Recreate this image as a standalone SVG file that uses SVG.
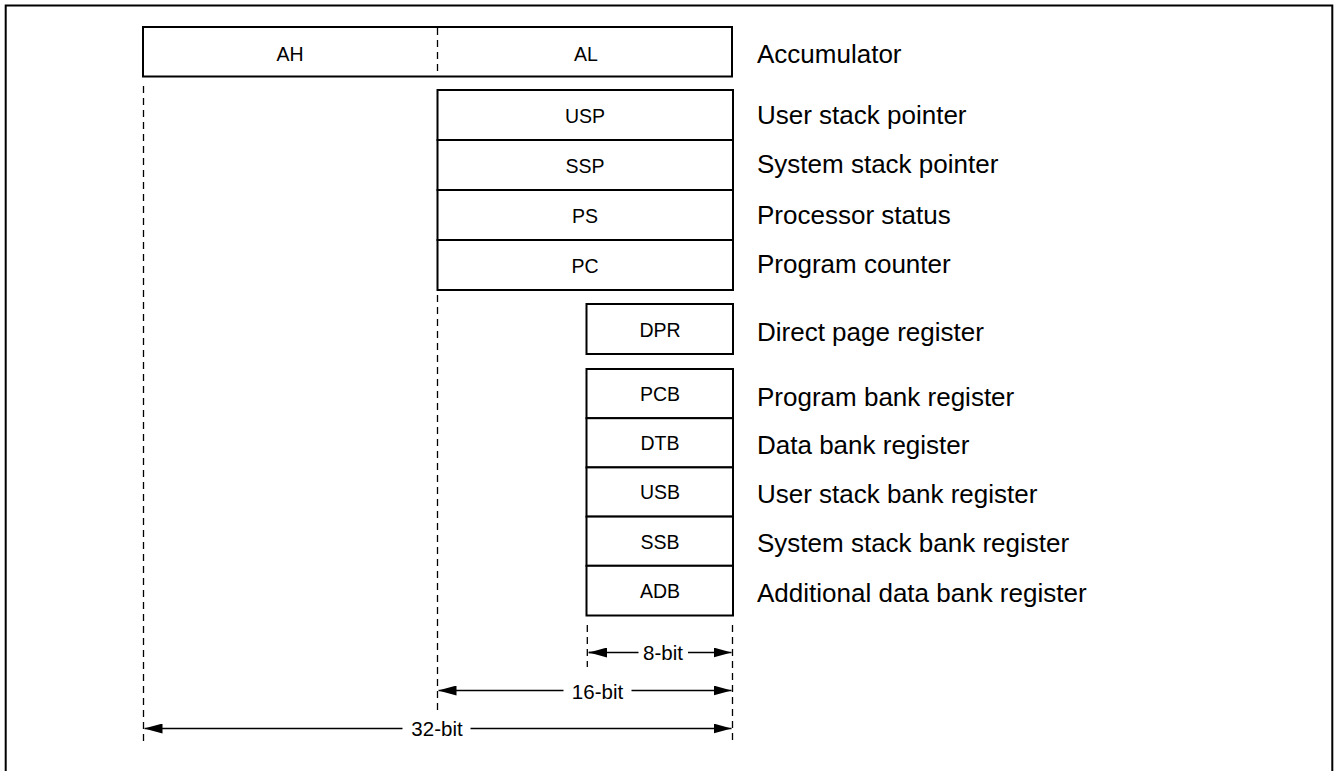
<svg xmlns="http://www.w3.org/2000/svg" width="1334" height="771" viewBox="0 0 1334 771">
<style>
.box{fill:#fff;stroke:#000;stroke-width:2}
.dash{stroke:#000;stroke-width:1.3;stroke-dasharray:7 5;fill:none}
.reg{font-family:"Liberation Sans",Arial,sans-serif;font-size:19.5px;text-anchor:middle;fill:#000}
.lbl{font-family:"Liberation Sans",Arial,sans-serif;font-size:26px;fill:#000}
.dim{font-family:"Liberation Sans",Arial,sans-serif;font-size:20.5px;text-anchor:middle;fill:#000}
.arr{stroke:#000;stroke-width:1.5;fill:none}
</style>
<defs>
<marker id="ah" viewBox="0 0 18 10" refX="18" refY="5" markerWidth="18" markerHeight="10" markerUnits="userSpaceOnUse" orient="auto-start-reverse">
<path d="M0,0 L18,5 L0,10 Z" fill="#000"/>
</marker>
</defs>
<rect width="1334" height="771" fill="#fff"/>
<path d="M5.7,780 V5.5 H1332.3 V780" fill="none" stroke="#000" stroke-width="2"/>

<g id="accumulator">
<rect class="box" x="143" y="27" width="589" height="49.5"/>
<line class="dash" x1="437.5" y1="28" x2="437.5" y2="76"/>
<text class="reg" x="290" y="61">AH</text>
<text class="reg" x="586" y="61">AL</text>
<text class="lbl" x="757" y="63">Accumulator</text>
</g>

<g id="usp">
<rect class="box" x="437.5" y="90" width="295.5" height="50"/>
<text class="reg" x="585" y="122.5">USP</text>
<text class="lbl" x="757" y="124">User stack pointer</text>
</g>
<g id="ssp">
<rect class="box" x="437.5" y="140" width="295.5" height="50"/>
<text class="reg" x="585" y="172.5">SSP</text>
<text class="lbl" x="757" y="173">System stack pointer</text>
</g>
<g id="ps">
<rect class="box" x="437.5" y="190" width="295.5" height="50"/>
<text class="reg" x="585" y="222.5">PS</text>
<text class="lbl" x="757" y="224">Processor status</text>
</g>
<g id="pc">
<rect class="box" x="437.5" y="240" width="295.5" height="50"/>
<text class="reg" x="585" y="272.5">PC</text>
<text class="lbl" x="757" y="273">Program counter</text>
</g>

<g id="dpr">
<rect class="box" x="586.5" y="304" width="146.5" height="50"/>
<text class="reg" x="660" y="336.5">DPR</text>
<text class="lbl" x="757" y="341">Direct page register</text>
</g>

<g id="pcb">
<rect class="box" x="586.5" y="369" width="146.5" height="49.2"/>
<text class="reg" x="660" y="401">PCB</text>
<text class="lbl" x="757" y="406">Program bank register</text>
</g>
<g id="dtb">
<rect class="box" x="586.5" y="418.2" width="146.5" height="49.2"/>
<text class="reg" x="660" y="450">DTB</text>
<text class="lbl" x="757" y="454">Data bank register</text>
</g>
<g id="usb">
<rect class="box" x="586.5" y="467.4" width="146.5" height="49.2"/>
<text class="reg" x="660" y="499">USB</text>
<text class="lbl" x="757" y="503">User stack bank register</text>
</g>
<g id="ssb">
<rect class="box" x="586.5" y="516.6" width="146.5" height="49.2"/>
<text class="reg" x="660" y="548.5">SSB</text>
<text class="lbl" x="757" y="552">System stack bank register</text>
</g>
<g id="adb">
<rect class="box" x="586.5" y="565.8" width="146.5" height="49.7"/>
<text class="reg" x="660" y="598">ADB</text>
<text class="lbl" x="757" y="602">Additional data bank register</text>
</g>

<g id="connectors">
<line class="dash" x1="143.5" y1="86" x2="143.5" y2="741"/>
<line class="dash" x1="437.5" y1="295" x2="437.5" y2="712"/>
<line class="dash" x1="587.3" y1="625" x2="587.3" y2="667"/>
<line class="dash" x1="732.5" y1="625" x2="732.5" y2="741"/>

<line class="arr" x1="606" y1="652.5" x2="589" y2="652.5" marker-end="url(#ah)"/>
<line class="arr" x1="588.5" y1="652.5" x2="638.5" y2="652.5"/>
<line class="arr" x1="688" y1="652.5" x2="731.5" y2="652.5" marker-end="url(#ah)"/>
<text class="dim" x="663" y="660">8-bit</text>

<line class="arr" x1="563.5" y1="690.5" x2="438.5" y2="690.5" marker-end="url(#ah)"/>
<line class="arr" x1="631.5" y1="690.5" x2="731.5" y2="690.5" marker-end="url(#ah)"/>
<text class="dim" x="597.5" y="698.5">16-bit</text>

<line class="arr" x1="402.5" y1="728.5" x2="144.5" y2="728.5" marker-end="url(#ah)"/>
<line class="arr" x1="470.5" y1="728.5" x2="731.5" y2="728.5" marker-end="url(#ah)"/>
<text class="dim" x="437" y="736">32-bit</text>
</g>
</svg>
